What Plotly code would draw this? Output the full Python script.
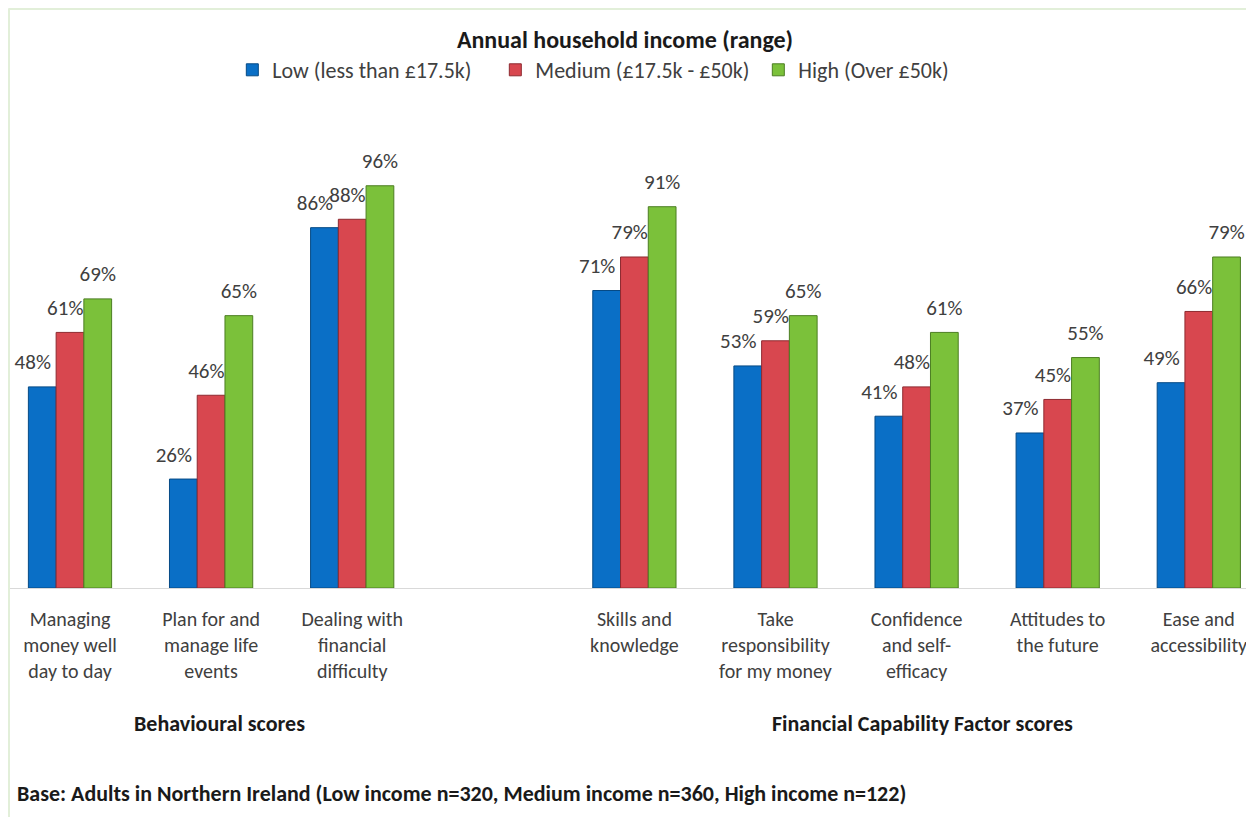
import plotly.graph_objects as go

categories = [
    "Managing<br>money well<br>day to day",
    "Plan for and<br>manage life<br>events",
    "Dealing with<br>financial<br>difficulty",
    "",
    "Skills and<br>knowledge",
    "Take<br>responsibility<br>for my money",
    "Confidence<br>and self-<br>efficacy",
    "Attitudes to<br>the future",
    "Ease and<br>accessibility",
]
positions = [0, 1, 2, 3, 4, 5, 6, 7, 8]

series_names = ["Low (less than £17.5k)", "Medium (£17.5k - £50k)", "High (Over £50k)"]
low = [48, 26, 86, None, 71, 53, 41, 37, 49]
medium = [61, 46, 88, None, 79, 59, 48, 45, 66]
high = [69, 65, 96, None, 91, 65, 61, 55, 79]

colors = ["#0A6FC6", "#D8474F", "#7BC13A"]
edge_colors = ["#064A85", "#8E2A30", "#4C7E22"]
# trailing non-breaking spaces nudge the data labels left, as in the original
label_pads = ["\u00a0" * 4, "\u00a0" * 2, ""]

FONT = "Calibri, Carlito, Lato, 'Open Sans', sans-serif"

# figure is drawn with an 8px page margin; work in figure pixels
W, H = 1246, 809
L, R, T, B = 2, 2, 161, 229
PW, PH = W - L - R, H - T - B

fig = go.Figure()
for i, (name, vals, c, ec) in enumerate(zip(series_names, [low, medium, high], colors, edge_colors)):
    fig.add_trace(go.Bar(
        x=positions,
        y=vals,
        name=name,
        offsetgroup=str(i),
        marker=dict(color=c, line=dict(color=ec, width=1)),
        hoverinfo="skip",
    ))
for i, (name, vals, pad) in enumerate(zip(series_names, [low, medium, high], label_pads)):
    fig.add_trace(go.Scatter(
        x=positions,
        y=vals,
        mode="markers+text",
        offsetgroup=str(i),
        text=[f"{v}%{pad}" if v is not None else "" for v in vals],
        textposition="top center",
        textfont=dict(family=FONT, size=21, color="#404040"),
        marker=dict(size=18, color="rgba(0,0,0,0)"),
        showlegend=False,
        hoverinfo="skip",
        cliponaxis=False,
    ))

fig.update_layout(
    width=W,
    height=H,
    paper_bgcolor="white",
    plot_bgcolor="white",
    barmode="group",
    bargap=0.41,
    bargroupgap=0,
    scattermode="group",
    scattergap=0.41,
    margin=dict(l=L, r=R, t=T, b=B, autoexpand=False),
    font=dict(family=FONT, color="#404040"),
    title=dict(
        text="<b>Annual household income (range)</b>",
        x=(625 - 8) / W, xanchor="center",
        y=1 - 32 / H, yanchor="middle",
        font=dict(family=FONT, size=24, color="#1a1a1a"),
    ),
    legend=dict(
        orientation="h",
        x=0.179, xanchor="left",
        y=(580 - 62) / PH, yanchor="middle",
        entrywidth=218,
        entrywidthmode="pixels",
        font=dict(family=FONT, size=22, color="#404040"),
        traceorder="normal",
    ),
    xaxis=dict(
        tickmode="array",
        tickvals=positions,
        ticktext=categories,
        range=[(10 - 70) / 141.1, (1252 - 70) / 141.1],
        showgrid=False,
        zeroline=False,
        showline=False,
        ticks="",
        ticklabelstandoff=17,
        tickfont=dict(family=FONT, size=20, color="#404040"),
    ),
    yaxis=dict(
        range=[0, 100],
        showgrid=False,
        zeroline=True,
        zerolinecolor="#D9D9D9",
        zerolinewidth=1,
        showticklabels=False,
        showline=False,
    ),
    annotations=[
        dict(text="<b>Behavioural scores</b>", xref="paper", yref="paper",
             x=(219 - 8 - L) / PW, y=(580 - 715) / PH, xanchor="center", yanchor="middle",
             showarrow=False, font=dict(family=FONT, size=22, color="#1a1a1a")),
        dict(text="<b>Financial Capability Factor scores</b>", xref="paper", yref="paper",
             x=(922 - 8 - L) / PW, y=(580 - 715) / PH, xanchor="center", yanchor="middle",
             showarrow=False, font=dict(family=FONT, size=22, color="#1a1a1a")),
        dict(text="<b>Base: Adults in Northern Ireland (Low income n=320, Medium income n=360, High income n=122)</b>",
             xref="paper", yref="paper", x=(15 - 8 - L) / PW, y=(580 - 785) / PH,
             xanchor="left", yanchor="middle", showarrow=False,
             font=dict(family=FONT, size=22, color="#1a1a1a")),
    ],
    shapes=[
        dict(type="line", xref="paper", yref="paper",
             x0=(0.5 - L) / PW, x1=(0.5 - L) / PW, y0=(580 - 0.5) / PH, y1=(580 - H) / PH,
             line=dict(color="#E2EFD9", width=3)),
        dict(type="line", xref="paper", yref="paper",
             x0=(0.5 - L) / PW, x1=1.01, y0=(580 - 0.5) / PH, y1=(580 - 0.5) / PH,
             line=dict(color="#E2EFD9", width=3)),
    ],
)

fig.write_html("out.html")
